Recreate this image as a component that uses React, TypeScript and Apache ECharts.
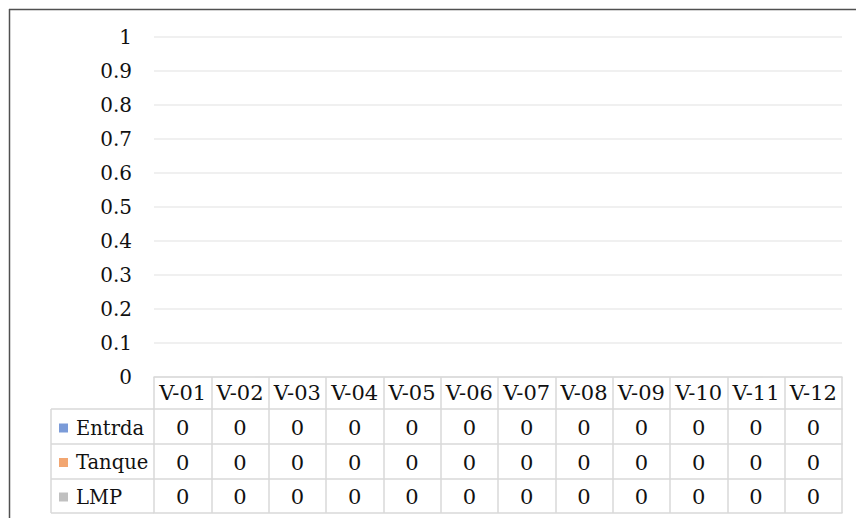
import React, { useEffect, useRef } from "react";
import * as echarts from "echarts";

const categories = ["V-01", "V-02", "V-03", "V-04", "V-05", "V-06", "V-07", "V-08", "V-09", "V-10", "V-11", "V-12"];
const seriesNames = ["Entrda", "Tanque", "LMP"];
const entrada = [0, 0, 0, 0, 0, 0, 0, 0, 0, 0, 0, 0];
const tanque = [0, 0, 0, 0, 0, 0, 0, 0, 0, 0, 0, 0];
const lmp = [0, 0, 0, 0, 0, 0, 0, 0, 0, 0, 0, 0];
const seriesColors = ["#7b9bd8", "#f2a671", "#c0c0c0"];
const yMin = 0;
const yMax = 1;
const yInterval = 0.1;

const FONT = "DejaVu Serif";
const FS_TABLE = 21;
const FS_Y = 20;
const FS_LEGEND = 19.5;
const TEXT = "#111111";
const TABLE_LINE = "#d9d9d9";

export default function App() {
  const ref = useRef<HTMLDivElement>(null);
  useEffect(() => {
    document.body.style.margin = "0";
    if (!ref.current) return;
    const chart = echarts.init(ref.current, null, { renderer: "svg" });
    const rows = [entrada, tanque, lmp];
    const gridTop = 37;
    const tableTop = 377;
    const rowLines = [409, 444, 479, 513];
    const mkRowAxis = (data: number[] | null, offset: number, margin: number) => ({
      type: "category",
      data: categories,
      position: "bottom",
      offset,
      axisLine: { show: true, lineStyle: { color: TABLE_LINE, width: 1.5 } },
      axisTick: { show: false },
      axisLabel: {
        show: !!data,
        interval: 0,
        margin,
        verticalAlign: "middle",
        fontFamily: FONT,
        fontSize: FS_TABLE,
        color: TEXT,
        formatter: (_v: string, idx: number) => (data ? String(data[idx]) : ""),
      },
      splitLine: { show: false },
    });
    const xAxes: any[] = [
      {
        type: "category",
        data: categories,
        position: "bottom",
        offset: 0,
        axisLine: { show: true, lineStyle: { color: TABLE_LINE, width: 1.5 } },
        axisTick: { show: true, interval: 0, length: rowLines[3] - tableTop, lineStyle: { color: TABLE_LINE, width: 1.5 } },
        axisLabel: {
          interval: 0,
          margin: 16,
          verticalAlign: "middle",
          fontFamily: FONT,
          fontSize: FS_TABLE,
          color: TEXT,
        },
      },
      mkRowAxis(rows[0], rowLines[0] - tableTop, 19),
      mkRowAxis(rows[1], rowLines[1] - tableTop, 19),
      mkRowAxis(rows[2], rowLines[2] - tableTop, 18),
      mkRowAxis(null, rowLines[3] - tableTop, 0),
    ];
    const legendLeft = 51;
    const graphics: any[] = [];
    rowLines.forEach((y) => {
      graphics.push({
        type: "line",
        shape: { x1: legendLeft, y1: y, x2: 154, y2: y },
        style: { stroke: TABLE_LINE, lineWidth: 1.5 },
        silent: true,
      });
    });
    graphics.push({
      type: "line",
      shape: { x1: legendLeft, y1: rowLines[0], x2: legendLeft, y2: rowLines[3] },
      style: { stroke: TABLE_LINE, lineWidth: 1.5 },
      silent: true,
    });
    graphics.push({
      type: "line",
      shape: { x1: 9, y1: 9.5, x2: 856, y2: 9.5 },
      style: { stroke: "#505050", lineWidth: 1.5 },
      silent: true,
    });
    graphics.push({
      type: "line",
      shape: { x1: 9.5, y1: 9, x2: 9.5, y2: 518 },
      style: { stroke: "#505050", lineWidth: 1.5 },
      silent: true,
    });

    chart.setOption({
      animation: false,
      backgroundColor: "#ffffff",
      textStyle: { fontFamily: FONT },
      grid: { left: 154, right: 14, top: gridTop, bottom: 518 - tableTop, containLabel: false },
      legend: {
        orient: "vertical",
        left: 59,
        top: 416.5,
        padding: 0,
        itemWidth: 9,
        itemHeight: 9,
        itemGap: 11.5,
        icon: "rect",
        data: seriesNames,
        textStyle: { fontFamily: FONT, fontSize: FS_LEGEND, color: TEXT, lineHeight: 23, padding: [0, 0, 0, 3] },
      },
      xAxis: xAxes,
      yAxis: {
        type: "value",
        min: yMin,
        max: yMax,
        interval: yInterval,
        axisLine: { show: false },
        axisTick: { show: false },
        axisLabel: { margin: 22, fontFamily: FONT, fontSize: FS_Y, color: TEXT },
        splitLine: { lineStyle: { color: "#ebebeb", width: 1.5 } },
      },
      series: seriesNames.map((name, i) => ({
        name,
        type: "bar",
        xAxisIndex: 0,
        data: rows[i],
        itemStyle: { color: seriesColors[i] },
      })),
      graphic: graphics,
    });
    return () => chart.dispose();
  }, []);
  return <div ref={ref} style={{ width: 856, height: 518 }} />;
}
